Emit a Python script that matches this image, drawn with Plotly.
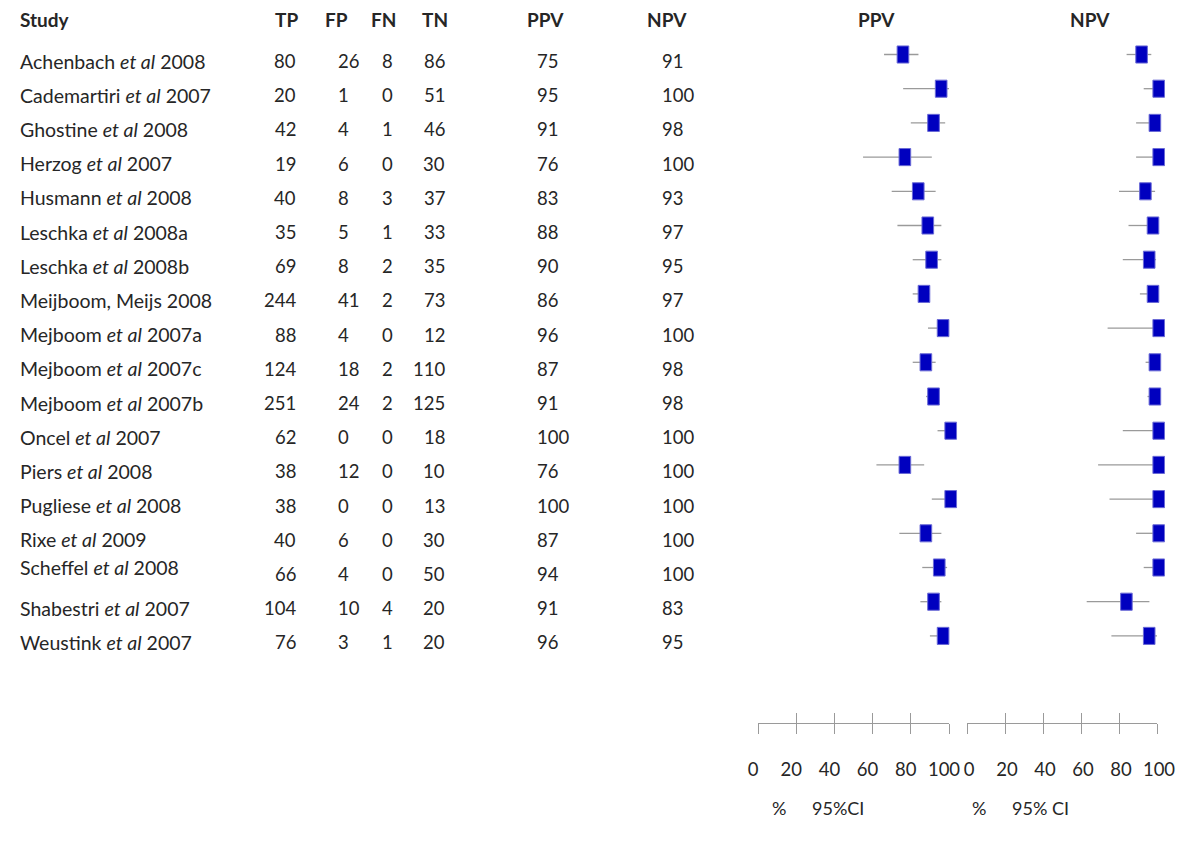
import plotly.graph_objects as go

# ---------------- data ----------------
studies = ["Achenbach et al 2008", "Cademartiri et al 2007", "Ghostine et al 2008",
           "Herzog et al 2007", "Husmann et al 2008", "Leschka et al 2008a",
           "Leschka et al 2008b", "Meijboom, Meijs 2008", "Mejboom et al 2007a",
           "Mejboom et al 2007c", "Mejboom et al 2007b", "Oncel et al 2007",
           "Piers et al 2008", "Pugliese et al 2008", "Rixe et al 2009",
           "Scheffel et al 2008", "Shabestri et al 2007", "Weustink et al 2007"]
TP = [80, 20, 42, 19, 40, 35, 69, 244, 88, 124, 251, 62, 38, 38, 40, 66, 104, 76]
FP = [26, 1, 4, 6, 8, 5, 8, 41, 4, 18, 24, 0, 12, 0, 6, 4, 10, 3]
FN = [8, 0, 1, 0, 3, 1, 2, 2, 0, 2, 2, 0, 0, 0, 0, 0, 4, 1]
TN = [86, 51, 46, 30, 37, 33, 35, 73, 12, 110, 125, 18, 10, 13, 30, 50, 20, 20]
PPV = [75, 95, 91, 76, 83, 88, 90, 86, 96, 87, 91, 100, 76, 100, 87, 94, 91, 96]
NPV = [91, 100, 98, 100, 93, 97, 95, 97, 100, 98, 98, 100, 100, 100, 100, 100, 83, 95]
PPV_lo = [66, 76, 80, 55, 70, 73, 81, 81, 89, 81, 88, 94, 62, 91, 74, 86, 85, 90]
PPV_hi = [84, 100, 98, 91, 93, 96, 96, 90, 99, 93, 94, 100, 87, 100, 96, 99, 96, 99]
NPV_lo = [84, 93, 89, 89, 80, 85, 82, 91, 74, 94, 95, 82, 69, 75, 89, 93, 63, 76]
NPV_hi = [97, 100, 100, 100, 99, 100, 99.5, 100, 100, 100, 100, 100, 100, 100, 100, 100, 96, 100]
tick_vals = [0, 20, 40, 60, 80, 100]
tick_text = ["0", "20", "40", "60", "80", "100"]

# ---------------- geometry ----------------
W, H = 1200, 859
ROW0, STEP = 54.5, 34.2          # pixel centre of first row, row spacing
y_top = -ROW0 / STEP
y_bot = (H - ROW0) / STEP
FONT = "Lato"
TXT = "#262626"
GRAY = "#9a9a9a"
CLEAR = "rgba(0,0,0,0)"
BOX_DX = 0.9                     # boxes sit slightly right of the value in the original

def fx(p):
    return p / W

def fy(p):
    return 1 - p / H

rows = list(range(len(studies)))

def ci_xy(lo, hi):
    xs, ys = [], []
    for i, (a, b) in enumerate(zip(lo, hi)):
        xs += [a, b, None]
        ys += [i, i, None]
    return xs, ys

def box_xy(vals, hw, hh):
    xs, ys = [], []
    for i, v in enumerate(vals):
        c = v + BOX_DX
        xs += [c - hw, c + hw, c + hw, c - hw, c - hw, None]
        ys += [i - hh, i - hh, i + hh, i + hh, i - hh, None]
    return xs, ys

HW, HH = 3.05, 0.25

fig = go.Figure()
for ax, lo, hi, vals in (("x", PPV_lo, PPV_hi, PPV), ("x2", NPV_lo, NPV_hi, NPV)):
    cx, cy = ci_xy(lo, hi)
    fig.add_trace(go.Scatter(x=cx, y=cy, mode="lines", xaxis=ax, yaxis="y",
                             line=dict(color=GRAY, width=1.3), hoverinfo="skip",
                             showlegend=False))
    bx, by = box_xy(vals, HW, HH)
    fig.add_trace(go.Scatter(x=bx, y=by, mode="lines", fill="toself", xaxis=ax, yaxis="y",
                             fillcolor="#0000bf", line=dict(color="#6b6bd6", width=1),
                             hoverinfo="skip", showlegend=False))

# dummy traces for the display axes
for ax in ("x3", "x4", "x5", "x6"):
    fig.add_trace(go.Scatter(x=[0, 100], y=[None, None], xaxis=ax, yaxis="y",
                             mode="markers", hoverinfo="skip", showlegend=False))

axis_y = fy(723.3)
def disp_axis(dom, inside, labels=False, shift=0):
    d = dict(domain=dom, range=[0, 100], anchor="free", position=axis_y,
             showgrid=False, zeroline=False, tickvals=tick_vals, ticktext=tick_text,
             ticks="inside" if inside else "outside", ticklen=10, tickwidth=1,
             tickcolor=GRAY, fixedrange=True, automargin=False)
    if labels:
        d.update(showline=True, linecolor=GRAY, linewidth=1, showticklabels=True,
                 tickfont=dict(family=FONT, size=18.5, color=TXT),
                 ticklabelstandoff=19, ticklabelshift=shift)
    else:
        d.update(showline=False, showticklabels=False)
    return d

ppv_dom = [fx(758), fx(949)]
npv_dom = [fx(967), fx(1157)]

fig.update_layout(
    width=W, height=H, autosize=False,
    margin=dict(l=0, r=0, t=0, b=0, pad=0, autoexpand=False),
    paper_bgcolor="white", plot_bgcolor=CLEAR, showlegend=False,
    xaxis=dict(domain=[fx(758 - 19.1), fx(758 + 1.91 * 110)], range=[-10, 110],
               visible=False, anchor="y", fixedrange=True, automargin=False),
    xaxis2=dict(domain=[fx(967 - 19.0), fx(967 + 1.90 * 110)], range=[-10, 110],
                visible=False, anchor="y", fixedrange=True, automargin=False),
    xaxis3=disp_axis(ppv_dom, False, True, -5),
    xaxis4=disp_axis(ppv_dom, True),
    xaxis5=disp_axis(npv_dom, False, True, 2),
    xaxis6=disp_axis(npv_dom, True),
    yaxis=dict(domain=[0, 1], range=[y_bot, y_top], visible=False, fixedrange=True,
               automargin=False),
)

ann = []
def text(x, y, s, anchor="center", yref="paper", yshift=0, size=19, bold=False):
    ann.append(dict(x=x, y=y, xref="paper", yref=yref, text=s, showarrow=False,
                    xanchor=anchor, yanchor="middle", yshift=yshift,
                    font=dict(family=FONT, size=size, color=TXT,
                              weight="bold" if bold else "normal")))

# headers
hy = fy(19.5)
text(fx(18), hy, "Study", "left", bold=True, size=19)
for lab, cx in (("TP", 286.5), ("FP", 336), ("FN", 383), ("TN", 435),
                ("PPV", 545.5), ("NPV", 667), ("PPV", 876), ("NPV", 1090)):
    text(fx(cx), hy, lab, "center", bold=True, size=19)

# table body
name_raise = {"Scheffel et al 2008": 7}   # this label sits higher in the original
cols = ((TP, 298, "right"), (FP, 336, "left"), (FN, 387, "center"),
        (TN, 447, "right"), (PPV, 535, "left"), (NPV, 660, "left"))
for i, name in zip(rows, studies):
    label = name.replace(" et al ", " <i>et al</i> ")
    text(fx(18), i, label, "left", yref="y", yshift=-6.5 + name_raise.get(name, 0),
         size=19.5)
    for vals, px, anc in cols:
        text(fx(px), i, str(vals[i]), anc, yref="y", yshift=-6.5, size=18.5)

# axis captions
cy = fy(808)
text(fx(779), cy, "%", "center", size=18)
text(fx(810), cy, "95%CI", "left", size=18)
text(fx(979), cy, "%", "center", size=18)
text(fx(1010), cy, "95% CI", "left", size=18)

fig.update_layout(annotations=ann)

fig.write_html("out.html", config={"displayModeBar": False},
               post_script="document.body.style.margin='0';document.body.style.overflow='hidden';")
